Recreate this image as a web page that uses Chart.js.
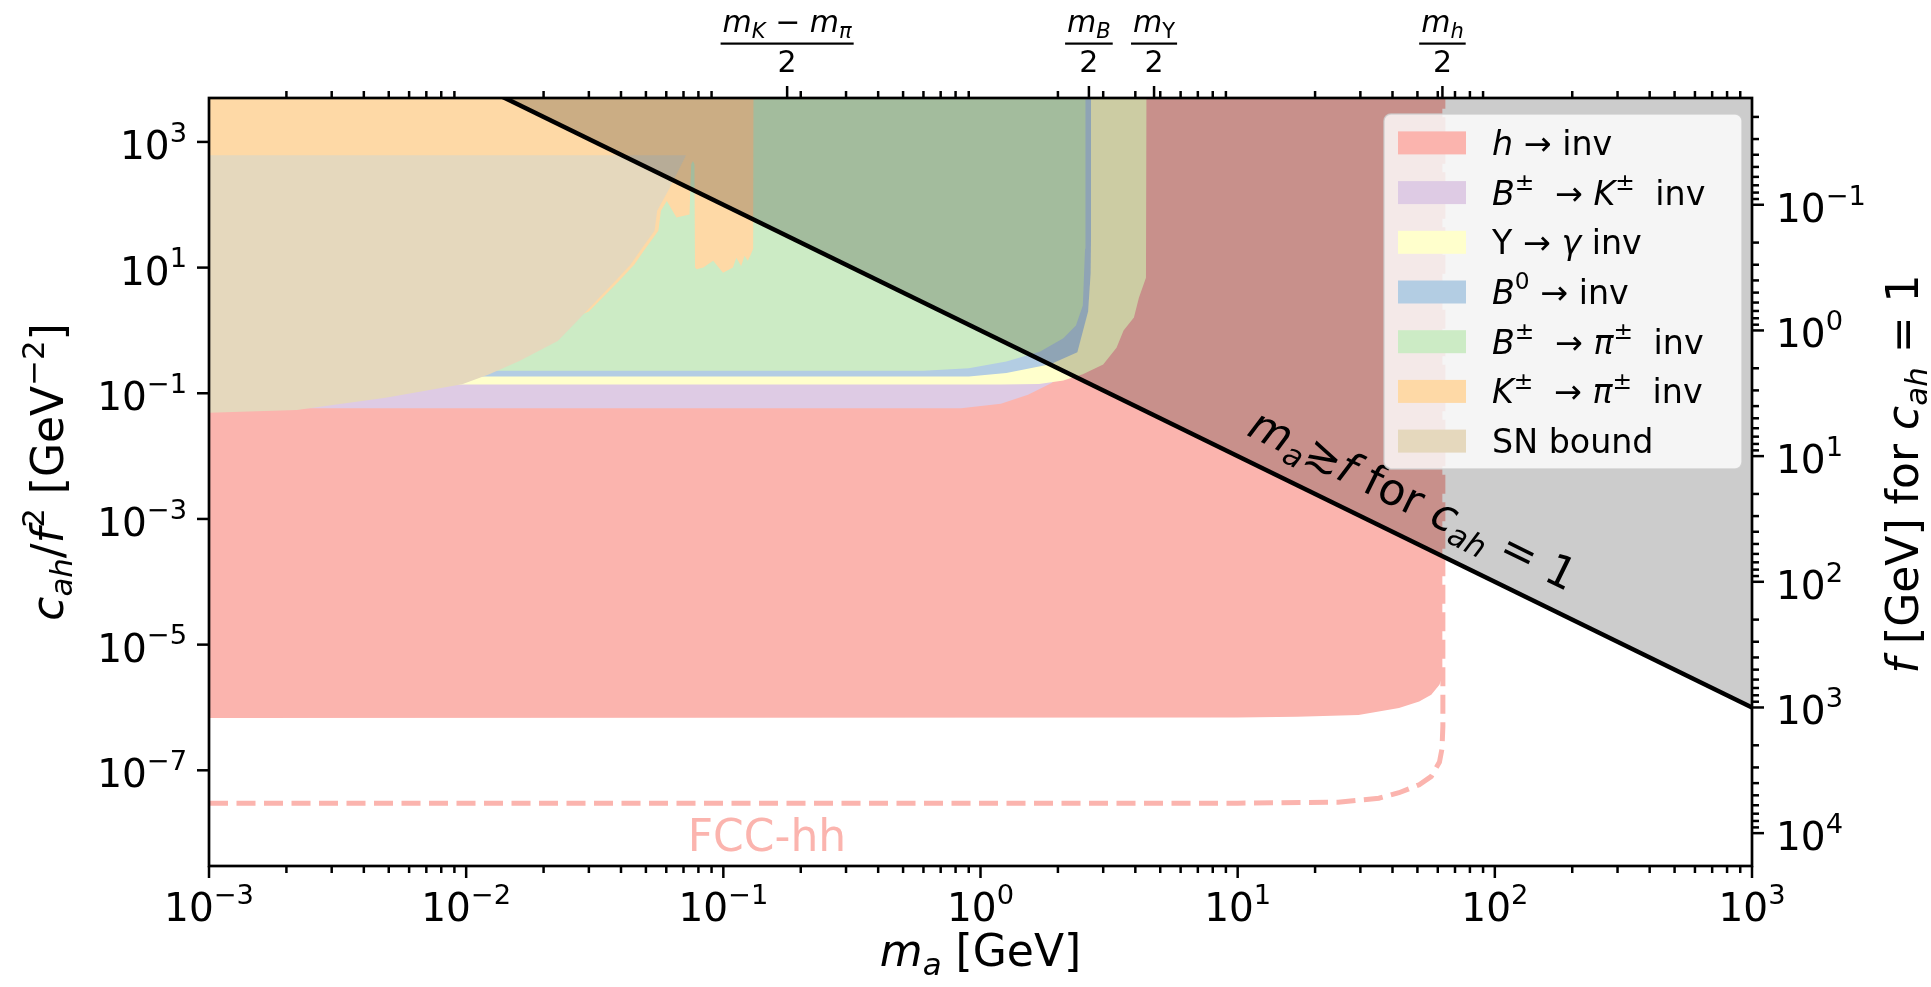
<!DOCTYPE html>
<html>
<head>
<meta charset="utf-8">
<script src="https://cdn.jsdelivr.net/npm/chart.js@4.4.1/dist/chart.umd.min.js"></script>
<style>
    html, body { margin: 0; padding: 0; background: #fff; }
    #wrap { width: 1931px; height: 987px; }
</style>
</head>
<body>
<div id="wrap"><canvas id="chart" width="1931" height="987"></canvas></div>
<script>
// Axis limits (m_a in GeV, c_ah/f^2 in GeV^-2)
const xRange = [1e-3, 1e3];
const yRange = [3e-9, 5e3];

// Excluded regions
const hInvX = [1e-3, 1e-3, 10, 17, 29.5, 42.4, 50.8, 56.6, 60.9, 62.3, 62.5, 62.5];
const hInvY = [1e4, 6.8e-7, 6.9e-7, 7.1e-7, 7.6e-7, 9.8e-7, 1.24e-6, 1.6e-6, 2.3e-6, 3.0e-6, 4e-6, 1e4];

const bKX = [1e-3, 0.84, 1.2, 1.53, 1.9, 2.1, 2.2, 2.25, 1e-3];
const bKY = [0.058, 0.058, 0.068, 0.095, 0.147, 0.3, 1, 1e4, 1e4];

const upsX = [1e-3, 1.2, 1.69, 2.1, 2.5, 3.0, 3.38, 3.6, 3.95, 4.13, 4.4, 4.42, 1e-3];
const upsY = [0.138, 0.138, 0.141, 0.159, 0.2, 0.287, 0.53, 1.0, 1.6, 3.3, 6.9, 1e4, 1e4];

const b0X = [1e-3, 0.9, 1.26, 1.87, 2.38, 2.62, 2.68, 2.69, 2.69, 1e-3];
const b0Y = [0.185, 0.185, 0.21, 0.29, 0.45, 2, 8, 30, 1e4, 1e4];

const bPiX = [1e-3, 0.6, 0.9, 1.26, 1.7, 2.1, 2.35, 2.5, 2.55, 2.56, 1e-3];
const bPiY = [0.229, 0.229, 0.25, 0.32, 0.46, 0.75, 1.2, 2.5, 20, 1e4, 1e4];

const kPiX = [1e-3, 0.131, 0.1306, 0.128, 0.1245, 0.1209, 0.1173, 0.1123, 0.109, 0.0997, 0.0913, 0.0836, 0.0787,
              0.0776, 0.0772, 0.0762, 0.0750, 0.0745, 0.0739, 0.0657, 0.0603, 0.0572, 0.0559, 0.049, 0.0451,
              0.0393, 0.03, 0.01, 1e-3];
const kPiY = [1e4, 1e4, 20, 16.3, 12.8, 15.4, 10.6, 14.4, 10.0, 8.3, 12.8, 10.0, 9.4,
              10, 441, 498, 441, 200, 70, 62.5, 115, 80, 38.5, 18.4, 11.2,
              6.1, 2, 0.3, 0.3];

const snX = [1e-3, 0.0022, 0.00245, 0.00486, 0.00685, 0.00965, 0.0123, 0.0161, 0.0227, 0.027, 0.032, 0.038,
             0.0436, 0.0474, 0.054, 0.0553, 0.0619, 0.0716, 1e-3];
const snY = [0.0492, 0.0544, 0.0576, 0.0852, 0.109, 0.139, 0.201, 0.327, 0.68, 1.41, 2.93, 6.1,
             11.2, 18.4, 38.5, 80, 187, 614, 614];

// FCC-hh projection (dashed)
const fccX = [1e-3, 10, 24.6, 35.4, 42.4, 50.8, 56.6, 60.9, 62.3, 62.8, 62.8];
const fccY = [3.0e-8, 3.0e-8, 3.1e-8, 3.6e-8, 4.4e-8, 5.9e-8, 8e-8, 1.35e-7, 2.2e-7, 5e-7, 1e4];

// m_a = f line for c_ah = 1 and the shaded area above it
const edgeX = [1e-3, 1e3];
const edgeY = [1e6, 1e-6];
const shadeX = [1e-3, 1e3, 1e3];
const shadeY = [1e6, 1e-6, 1e6];

// Tick labels
const xTickExp = [-3, -2, -1, 0, 1, 2, 3];
const yTickExp = [-7, -5, -3, -1, 1, 3];
const fTickExp = [-1, 0, 1, 2, 3, 4];
const topTickVals = [0.17705, 2.6397, 4.7301, 62.55];
const topTickNum = [
    [{t: 'm', i: 1}, {t: 'K', i: 1, sub: 1}, {t: ' − '}, {t: 'm', i: 1}, {t: 'π', i: 1, sub: 1}],
    [{t: 'm', i: 1}, {t: 'B', i: 1, sub: 1}],
    [{t: 'm', i: 1}, {t: 'Υ', sub: 1}],
    [{t: 'm', i: 1}, {t: 'h', i: 1, sub: 1}]
];

// Legend
const legendLabels = [
    [{t: 'h', i: 1}, {t: ' → inv'}],
    [{t: 'B', i: 1}, {t: '±', sup: 1, sp: 0.3}, {t: ' → '}, {t: 'K', i: 1}, {t: '±', sup: 1, sp: 0.3}, {t: ' inv'}],
    [{t: 'Υ → '}, {t: 'γ', i: 1}, {t: ' inv'}],
    [{t: 'B', i: 1}, {t: '0', sup: 1}, {t: ' → inv'}],
    [{t: 'B', i: 1}, {t: '±', sup: 1, sp: 0.3}, {t: ' → '}, {t: 'π', i: 1}, {t: '±', sup: 1, sp: 0.3}, {t: ' inv'}],
    [{t: 'K', i: 1}, {t: '±', sup: 1, sp: 0.3}, {t: ' → '}, {t: 'π', i: 1}, {t: '±', sup: 1, sp: 0.3}, {t: ' inv'}],
    [{t: 'SN bound'}]
];
const legendColors = ['#fbb4ae', '#decbe4', '#ffffcc', '#b3cde3', '#ccebc5', '#fed9a6', '#e5d8bd'];

const FONT = '"DejaVu Sans", sans-serif';

function pts(xs, ys) {
    return xs.map(function(x, i) { return {x: x, y: ys[i]}; });
}

function region(xs, ys, color, order) {
    return {
        data: pts(xs, ys),
        showLine: true,
        fill: 'shape',
        backgroundColor: color,
        borderColor: 'transparent',
        borderWidth: 0,
        pointRadius: 0,
        clip: 0,
        order: order
    };
}

// Simple mathtext-like runs: italic, sub, sup
function fontFor(r, fs) {
    var size = fs * ((r.sup || r.sub) ? 0.7 : 1);
    return (r.i ? 'italic ' : '') + size.toFixed(2) + 'px ' + FONT;
}
function richWidth(ctx, runs, fs) {
    var w = 0;
    runs.forEach(function(r) {
        ctx.font = fontFor(r, fs);
        w += ctx.measureText(r.t).width + (r.sp || 0) * fs;
    });
    return w;
}
function drawRich(ctx, runs, x, y, fs, align) {
    var w = richWidth(ctx, runs, fs);
    var cx = x;
    if (align === 'center') cx -= w / 2;
    else if (align === 'right') cx -= w;
    ctx.textAlign = 'left';
    ctx.textBaseline = 'alphabetic';
    runs.forEach(function(r) {
        ctx.font = fontFor(r, fs);
        var dy = r.sup ? -0.44 * fs : (r.sub ? 0.2 * fs : 0);
        ctx.fillText(r.t, cx, y + dy);
        cx += ctx.measureText(r.t).width + (r.sp || 0) * fs;
    });
    return w;
}
function powRuns(e) {
    return [{t: '10'}, {t: (e < 0 ? '−' + (-e) : '' + e), sup: 1}];
}

const MAJ = 12, MIN = 7;

const decor = {
    id: 'decor',
    afterDraw: function(chart) {
        var ctx = chart.ctx, a = chart.chartArea;
        var sx = chart.scales.x, sy = chart.scales.y, sf = chart.scales.yf;
        ctx.save();

        // label along the m_a = f line
        var line = chart.getDatasetMeta(8).data;
        var ang = Math.atan2(line[1].y - line[0].y, line[1].x - line[0].x);
        ctx.save();
        ctx.translate(sx.getPixelForValue(9.8), sy.getPixelForValue(0.0104));
        ctx.rotate(ang);
        ctx.fillStyle = '#000';
        drawRich(ctx, [{t: 'm', i: 1}, {t: 'a', i: 1, sub: 1}, {t: '≳'}, {t: 'f', i: 1}, {t: ' for '},
                       {t: 'c', i: 1}, {t: 'ah', i: 1, sub: 1}, {t: ' = 1'}], 0, -23, 44, 'left');
        ctx.restore();

        // FCC-hh label
        ctx.fillStyle = '#fbb4ae';
        ctx.font = '44px ' + FONT;
        ctx.textAlign = 'center';
        ctx.textBaseline = 'alphabetic';
        ctx.fillText('FCC-hh', 767, 851);

        // ticks
        ctx.strokeStyle = '#000';
        ctx.fillStyle = '#000';
        ctx.lineWidth = 2.5;
        function tick(x1, y1, x2, y2) {
            ctx.beginPath(); ctx.moveTo(x1, y1); ctx.lineTo(x2, y2); ctx.stroke();
        }
        xTickExp.forEach(function(e) {
            var px = sx.getPixelForValue(Math.pow(10, e));
            tick(px, a.bottom, px, a.bottom + MAJ);
            drawRich(ctx, powRuns(e), px, 921, 39, 'center');
        });
        for (var d = -3; d < 3; d++) {
            for (var m = 2; m < 10; m++) {
                var px = sx.getPixelForValue(m * Math.pow(10, d));
                tick(px, a.bottom, px, a.bottom + MIN);
                tick(px, a.top, px, a.top - MIN);
            }
        }
        topTickVals.forEach(function(v, k) {
            var px = sx.getPixelForValue(v);
            tick(px, a.top, px, a.top - MAJ);
            var w = drawRich(ctx, topTickNum[k], px, 32, 30, 'center');
            ctx.fillRect(px - w / 2 - 2, 42.5, w + 4, 2.2);
            ctx.font = '30px ' + FONT;
            ctx.textAlign = 'center';
            ctx.fillText('2', px, 72);
        });
        yTickExp.forEach(function(e) {
            var py = sy.getPixelForValue(Math.pow(10, e));
            tick(a.left, py, a.left - MAJ, py);
            drawRich(ctx, powRuns(e), 187, py + 17, 39, 'right');
        });
        fTickExp.forEach(function(e) {
            var py = sf.getPixelForValue(Math.pow(10, e));
            tick(a.right, py, a.right + MAJ, py);
            drawRich(ctx, powRuns(e), 1776, py + 17, 39, 'left');
        });
        for (var d2 = -2; d2 < 5; d2++) {
            for (var m2 = 2; m2 < 10; m2++) {
                var v = m2 * Math.pow(10, d2);
                if (v < sf.min || v > sf.max) continue;
                var py2 = sf.getPixelForValue(v);
                tick(a.right, py2, a.right + MIN, py2);
            }
        }

        // spines
        ctx.lineWidth = 2.7;
        ctx.strokeRect(a.left, a.top, a.right - a.left, a.bottom - a.top);

        // axis titles
        drawRich(ctx, [{t: 'm', i: 1}, {t: 'a', i: 1, sub: 1}, {t: ' [GeV]'}], (a.left + a.right) / 2, 966, 44, 'center');
        ctx.save();
        ctx.translate(63, 472);
        ctx.rotate(-Math.PI / 2);
        drawRich(ctx, [{t: 'c', i: 1}, {t: 'ah', i: 1, sub: 1}, {t: '/'}, {t: 'f', i: 1}, {t: '2', sup: 1},
                       {t: ' [GeV'}, {t: '−2', sup: 1}, {t: ']'}], 0, 0, 44, 'center');
        ctx.restore();
        ctx.save();
        ctx.translate(1918, (a.top + a.bottom) / 2 - 8);
        ctx.rotate(-Math.PI / 2);
        drawRich(ctx, [{t: 'f', i: 1}, {t: ' [GeV] for '}, {t: 'c', i: 1}, {t: 'ah', i: 1, sub: 1}, {t: ' = 1'}], 0, 0, 44, 'center');
        ctx.restore();

        // legend
        var lx = 1384, ly = 114, lw = 358, lh = 355, r = 7;
        ctx.beginPath();
        ctx.moveTo(lx + r, ly);
        ctx.arcTo(lx + lw, ly, lx + lw, ly + lh, r);
        ctx.arcTo(lx + lw, ly + lh, lx, ly + lh, r);
        ctx.arcTo(lx, ly + lh, lx, ly, r);
        ctx.arcTo(lx, ly, lx + lw, ly, r);
        ctx.closePath();
        ctx.fillStyle = 'rgba(255,255,255,0.8)';
        ctx.fill();
        ctx.strokeStyle = 'rgba(204,204,204,0.8)';
        ctx.lineWidth = 1.5;
        ctx.stroke();
        legendLabels.forEach(function(runs, k) {
            var cy = 142.9 + k * 49.7;
            ctx.fillStyle = legendColors[k];
            ctx.fillRect(1398, cy - 11.5, 68, 23);
            ctx.fillStyle = '#000';
            drawRich(ctx, runs, 1492, cy + 12, 33.3, 'left');
        });

        ctx.restore();
    }
};

new Chart(document.getElementById('chart'), {
    type: 'scatter',
    data: {
        datasets: [
            region(hInvX, hInvY, '#fbb4ae', 20),
            region(bKX, bKY, '#decbe4', 19),
            region(upsX, upsY, '#ffffcc', 18),
            region(b0X, b0Y, '#b3cde3', 17),
            region(bPiX, bPiY, '#ccebc5', 16),
            region(kPiX, kPiY, '#fed9a6', 15),
            region(snX, snY, '#e5d8bd', 14),
            {
                data: pts(fccX, fccY), showLine: true, fill: false, borderColor: '#fbb4ae',
                borderWidth: 5, borderDash: [19, 8.5], borderCapStyle: 'butt', pointRadius: 0, clip: 0, order: 13
            },
            {
                data: pts(edgeX, edgeY), showLine: true, fill: false, borderColor: '#000',
                borderWidth: 4.5, pointRadius: 0, clip: 0, order: 11
            },
            region(shadeX, shadeY, 'rgba(0,0,0,0.2)', 12)
        ]
    },
    options: {
        responsive: false,
        animation: false,
        devicePixelRatio: 1,
        events: [],
        layout: { padding: { left: 209, right: 179, top: 98, bottom: 121 } },
        scales: {
            x: { type: 'logarithmic', min: xRange[0], max: xRange[1], bounds: 'data', display: false },
            y: { type: 'logarithmic', min: yRange[0], max: yRange[1], bounds: 'data', display: false },
            yf: {
                type: 'logarithmic', position: 'right', reverse: true, bounds: 'data', display: false,
                min: Math.pow(yRange[1], -0.5), max: Math.pow(yRange[0], -0.5)
            }
        },
        plugins: { legend: { display: false }, tooltip: { enabled: false } }
    },
    plugins: [decor]
});
</script>
</body>
</html>
